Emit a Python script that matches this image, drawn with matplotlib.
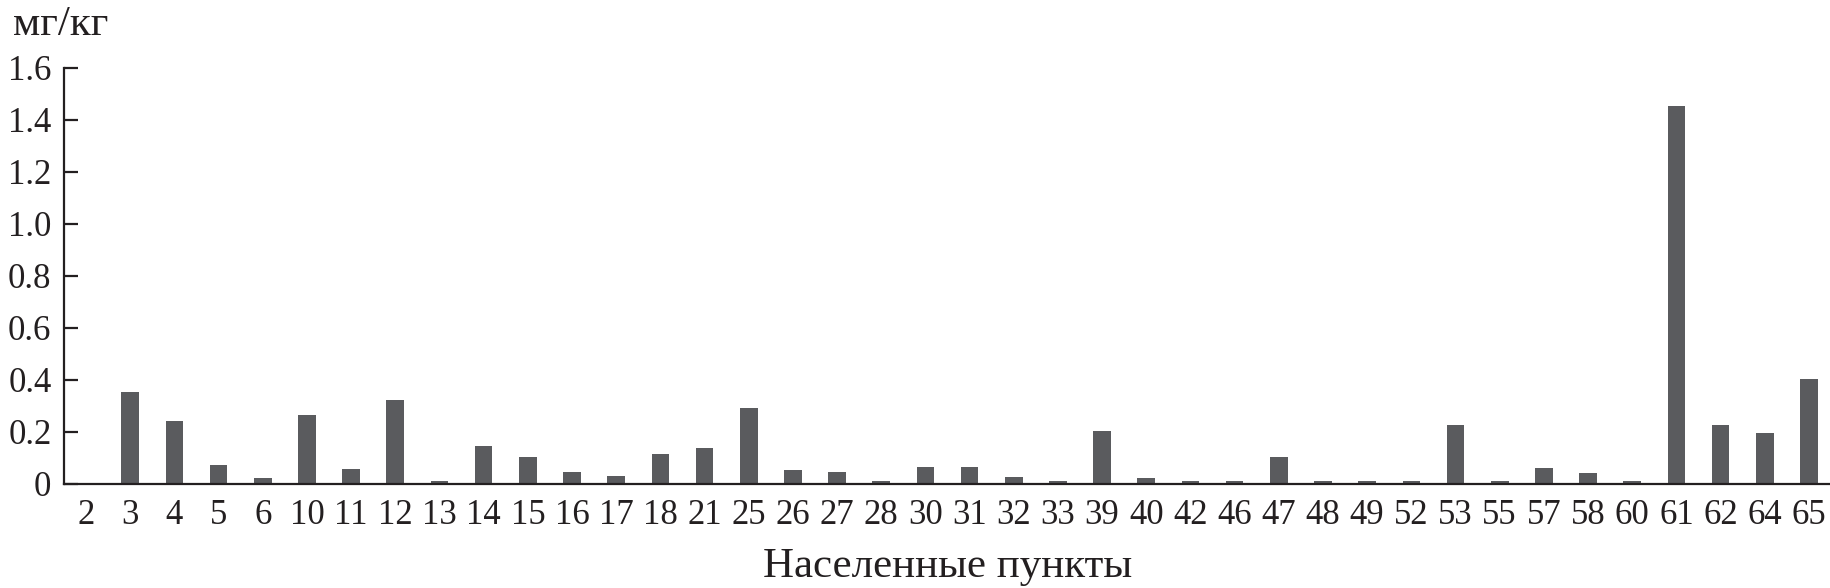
import matplotlib
matplotlib.use("Agg")
import matplotlib.pyplot as plt
import numpy as np

categories = ["2", "3", "4", "5", "6", "10", "11", "12", "13", "14", "15", "16",
              "17", "18", "21", "25", "26", "27", "28", "30", "31", "32", "33",
              "39", "40", "42", "46", "47", "48", "49", "52", "53", "55", "57",
              "58", "60", "61", "62", "64", "65"]
values = [0.003, 0.354, 0.243, 0.072, 0.022, 0.266, 0.056, 0.322, 0.012, 0.147,
          0.102, 0.047, 0.031, 0.116, 0.137, 0.292, 0.053, 0.045, 0.010, 0.066,
          0.066, 0.027, 0.010, 0.203, 0.023, 0.010, 0.010, 0.105, 0.010, 0.010,
          0.010, 0.226, 0.010, 0.062, 0.043, 0.010, 1.452, 0.226, 0.197, 0.403]
yticks = [0, 0.2, 0.4, 0.6, 0.8, 1.0, 1.2, 1.4, 1.6]
ytick_labels = ["0", "0.2", "0.4", "0.6", "0.8", "1.0", "1.2", "1.4", "1.6"]

plt.rcParams['font.family'] = ['Liberation Serif', 'DejaVu Serif']

W, H = 1831, 588
fig = plt.figure(figsize=(W / 100, H / 100), dpi=100)
left, right = 64 / W, 1.0
bottom, top = 1 - 484 / H, 1 - 68 / H
ax = fig.add_axes([left, bottom, right - left, top - bottom])

x = np.arange(len(categories))
ax.bar(x, values, width=0.4, color='#5a5b5e', edgecolor='none')

ax.set_xlim(-0.5, len(categories) - 0.5)
ax.set_ylim(0, 1.6)
ax.set_yticks(yticks)
ax.set_yticklabels(ytick_labels)
ax.set_xticks(x)
ax.set_xticklabels(categories)

for s in ['top', 'right']:
    ax.spines[s].set_visible(False)
for s in ['left', 'bottom']:
    ax.spines[s].set_linewidth(1.6)
    ax.spines[s].set_color('#231f20')

ax.tick_params(axis='y', direction='in', length=10, width=1.6, color='#231f20',
               labelsize=25, pad=9, labelcolor='#231f20')
ax.tick_params(axis='x', length=0, labelsize=25, pad=11, labelcolor='#231f20')

ax.set_xlabel("Населенные пункты", fontsize=31, color='#231f20', labelpad=11)
fig.text(13 / W, 1 - 25 / H, "мг/кг", fontsize=31, color='#231f20',
         ha='left', va='center')

fig.savefig("out.png", dpi=100, facecolor='white')
